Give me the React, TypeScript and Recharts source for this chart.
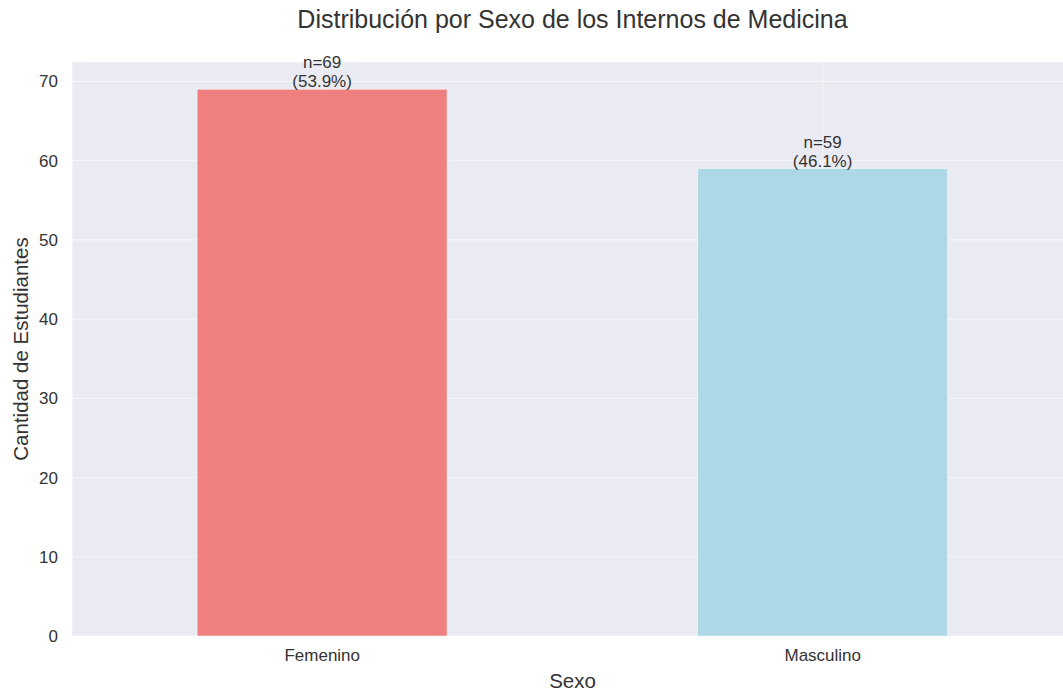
import { BarChart, Bar, XAxis, YAxis, CartesianGrid, Cell, LabelList } from 'recharts';

const categories = ['Femenino', 'Masculino'];
const counts = [69, 59];
const percents = ['53.9%', '46.1%'];
const barColors = ['#F08080', '#ADD8E6'];
const yTicks = [0, 10, 20, 30, 40, 50, 60, 70];

const data = categories.map((c, i) => ({ sexo: c, n: counts[i], pct: percents[i] }));

const FONT = '"Liberation Sans", Arial, sans-serif';
const TEXT = '#333333';

function BarLabel(props: any) {
  const { x, y, width, index } = props;
  const cx = x + width / 2;
  return (
    <text x={cx} y={y} textAnchor="middle" fontSize={17} fill={TEXT} fontFamily={FONT}>
      <tspan x={cx} dy={-21}>{`n=${counts[index]}`}</tspan>
      <tspan x={cx} dy={19}>{`(${percents[index]})`}</tspan>
    </text>
  );
}

function YLabel(props: any) {
  const vb = props.viewBox;
  const cy = vb.y + vb.height / 2;
  return (
    <text
      x={20}
      y={cy}
      transform={`rotate(-90, 20, ${cy})`}
      textAnchor="middle"
      dominantBaseline="central"
      fontSize={20.5}
      fill={TEXT}
      fontFamily={FONT}
    >
      Cantidad de Estudiantes
    </text>
  );
}

function XLabel(props: any) {
  const vb = props.viewBox;
  const cx = vb.x + vb.width / 2;
  return (
    <text x={cx} y={680} textAnchor="middle" dominantBaseline="central" fontSize={20.5} fill={TEXT} fontFamily={FONT}>
      Sexo
    </text>
  );
}

export default function App() {
  return (
    <div style={{ position: 'fixed', left: 0, top: 0, width: 1063, height: 691, overflow: 'hidden', background: '#fff' }}>
      <div
        style={{
          position: 'absolute',
          left: 72,
          width: 1001,
          top: 4,
          textAlign: 'center',
          fontFamily: FONT,
          fontSize: 25,
          color: TEXT,
          lineHeight: '30px',
        }}
      >
        Distribución por Sexo de los Internos de Medicina
      </div>
      <div style={{ position: 'absolute', left: 0, top: 0 }}>
        <BarChart
          width={1090}
          height={691}
          data={data}
          margin={{ top: 62, right: 17, bottom: 0, left: 0 }}
          barCategoryGap="25%"
        >
          <CartesianGrid fill="#EAEAF2" stroke="#FFFFFF" strokeOpacity={0.5} strokeWidth={1.2} />
          <XAxis
            dataKey="sexo"
            height={55}
            axisLine={false}
            tickLine={false}
            tickSize={0}
            tickMargin={13}
            tick={{ fontSize: 17, fill: TEXT, fontFamily: FONT }}
            label={<XLabel />}
          />
          <YAxis
            width={72}
            domain={[0, 72.45]}
            ticks={yTicks}
            axisLine={false}
            tickLine={false}
            tickSize={0}
            tickMargin={14}
            tick={{ fontSize: 17, fill: TEXT, fontFamily: FONT }}
            label={<YLabel />}
          />
          <Bar dataKey="n" isAnimationActive={false} stroke="#FFFFFF" strokeOpacity={0.5} strokeWidth={1}>
            {data.map((d, i) => (
              <Cell key={d.sexo} fill={barColors[i]} />
            ))}
            <LabelList dataKey="n" content={<BarLabel />} />
          </Bar>
        </BarChart>
      </div>
    </div>
  );
}
